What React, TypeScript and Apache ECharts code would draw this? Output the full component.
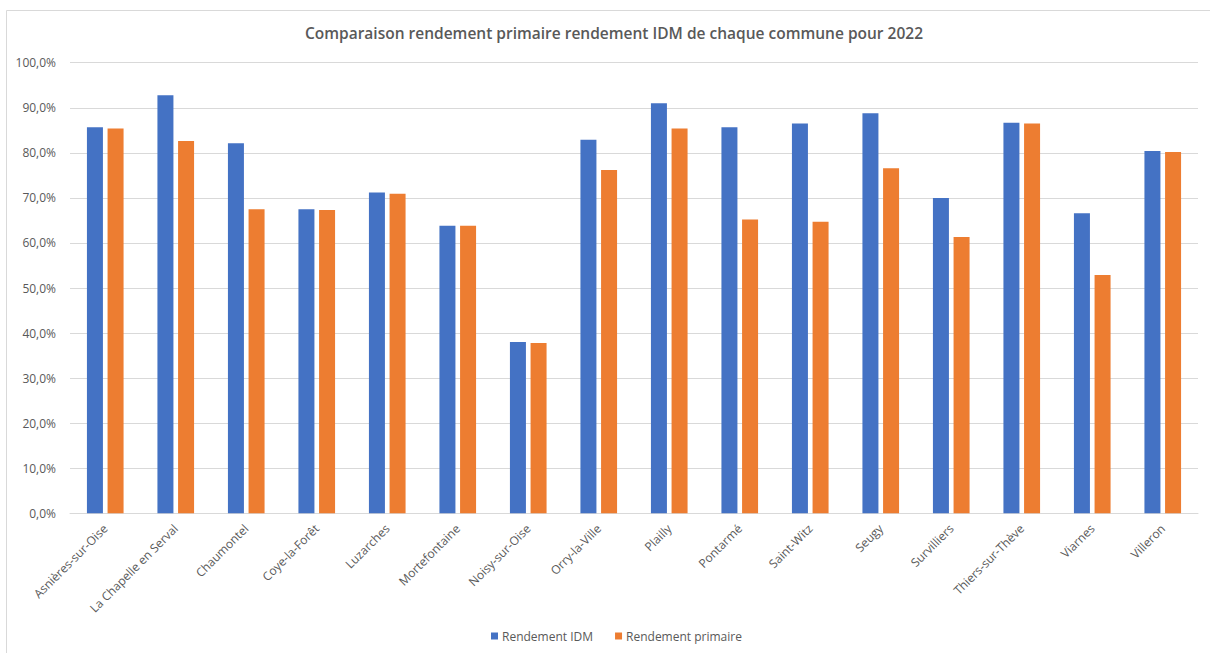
import React, { useEffect, useRef } from "react";
import * as echarts from "echarts";

const communes = [
  "Asnières-sur-Oise",
  "La Chapelle en Serval",
  "Chaumontel",
  "Coye-la-Forêt",
  "Luzarches",
  "Mortefontaine",
  "Noisy-sur-Oise",
  "Orry-la-Ville",
  "Plailly",
  "Pontarmé",
  "Saint-Witz",
  "Seugy",
  "Survilliers",
  "Thiers-sur-Thève",
  "Viarnes",
  "Villeron",
];

const rendementIDM = [85.7, 92.8, 82.1, 67.5, 71.2, 63.8, 38.0, 82.9, 91.0, 85.7, 86.5, 88.8, 70.0, 86.7, 66.6, 80.4];
const rendementPrimaire = [85.4, 82.6, 67.5, 67.3, 70.9, 63.8, 37.8, 76.2, 85.4, 65.2, 64.7, 76.6, 61.3, 86.5, 52.9, 80.2];

const yTicks = [0, 10, 20, 30, 40, 50, 60, 70, 80, 90, 100];

const titleText = "Comparaison rendement primaire rendement IDM de chaque commune pour 2022";
const seriesNames = ["Rendement IDM", "Rendement primaire"];

const FONT = "'Open Sans', 'Noto Sans', sans-serif";

export default function App() {
  const ref = useRef<HTMLDivElement>(null);

  useEffect(() => {
    if (!ref.current) return;
    const chart = echarts.init(ref.current, undefined, { renderer: "svg" });
    const fmt = (v: number) => v.toFixed(1).replace(".", ",") + "%";
    chart.setOption({
      animation: false,
      backgroundColor: "#ffffff",
      textStyle: { fontFamily: FONT },
      title: {
        text: titleText,
        left: 609,
        top: 20,
        textAlign: "center",
        textStyle: { fontFamily: FONT, fontSize: 15.5, fontWeight: 600, color: "#595959" },
      },
      graphic: [
        { type: "line", shape: { x1: 6.5, y1: 10.5, x2: 1210, y2: 10.5 }, style: { stroke: "#d9d9d9", lineWidth: 1 } },
        { type: "line", shape: { x1: 6.5, y1: 10.5, x2: 6.5, y2: 653 }, style: { stroke: "#d9d9d9", lineWidth: 1 } },
      ],
      legend: {
        bottom: 6,
        left: 486,
        itemWidth: 7,
        itemHeight: 7,
        itemGap: 22,
        icon: "rect",
        data: seriesNames,
        textStyle: { fontFamily: FONT, fontSize: 12, color: "#595959", padding: [0, 0, 0, -1] },
      },
      grid: { left: 70, right: 12, top: 62.7, bottom: 139.7, containLabel: false },
      xAxis: {
        type: "category",
        data: communes,
        axisLine: { lineStyle: { color: "#d9d9d9" } },
        axisTick: { show: false },
        axisLabel: {
          rotate: 45,
          interval: 0,
          color: "#595959",
          fontFamily: FONT,
          fontSize: 12,
          margin: 13,
        },
      },
      yAxis: {
        type: "value",
        min: 0,
        max: 100,
        interval: 10,
        axisLine: { show: false },
        axisTick: { show: false },
        splitLine: { lineStyle: { color: "#d9d9d9", width: 1 } },
        axisLabel: {
          color: "#595959",
          fontFamily: FONT,
          fontSize: 12,
          margin: 14,
          formatter: (v: number) => (yTicks.includes(v) ? fmt(v) : ""),
        },
      },
      series: [
        {
          name: seriesNames[0],
          type: "bar",
          data: rendementIDM,
          barWidth: 16,
          barGap: "29%",
          itemStyle: { color: "#4472C4" },
        },
        {
          name: seriesNames[1],
          type: "bar",
          data: rendementPrimaire,
          barWidth: 16,
          itemStyle: { color: "#ED7D31" },
        },
      ],
    });
    return () => chart.dispose();
  }, []);

  return (
    <div
      ref={ref}
      style={{ position: "fixed", left: 0, top: 0, width: 1210, height: 653, background: "#fff" }}
    />
  );
}
